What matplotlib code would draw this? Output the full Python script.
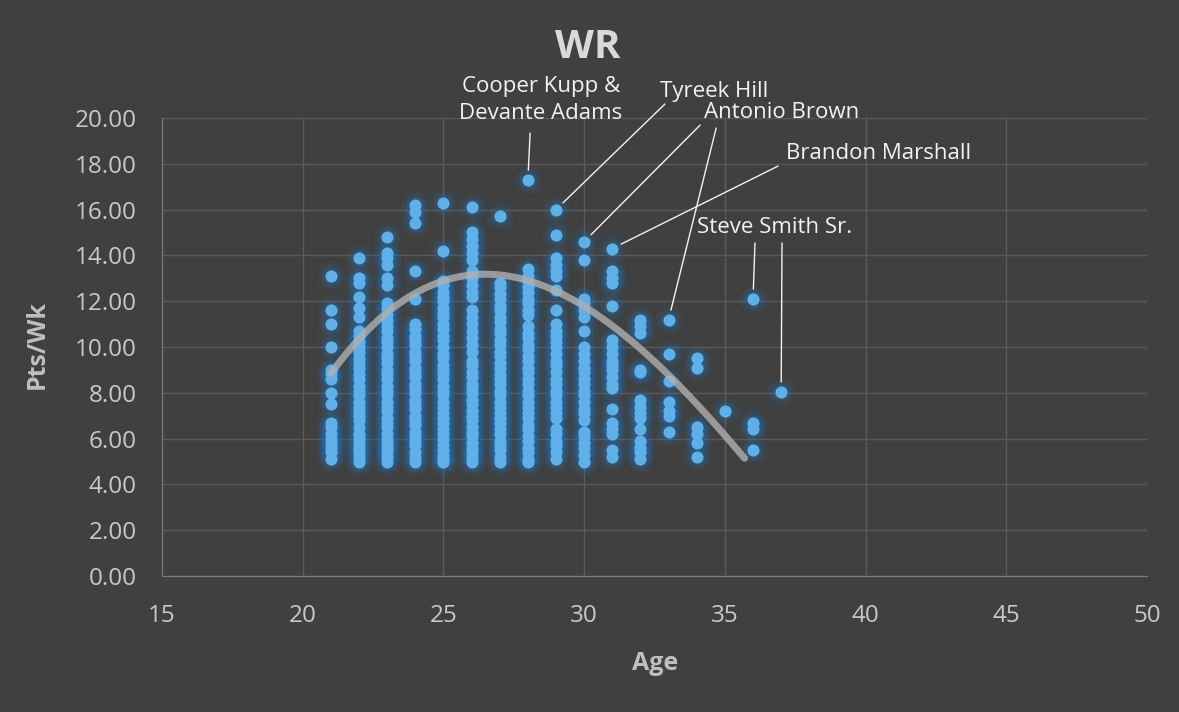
import matplotlib
matplotlib.use('Agg')
import matplotlib.pyplot as plt
import numpy as np

plt.rcParams['font.family'] = ['Open Sans', 'DejaVu Sans']

# points per week for each age column
ages = [21, 22, 23, 24, 25, 26, 27, 28, 29, 30, 31, 32, 33, 34, 35, 36, 37]
pts_21 = [13.1, 11.6, 11.0, 10.0, 9.0, 8.8, 8.6, 8.0, 7.5, 6.7, 6.5, 6.2, 6.0, 5.8, 5.6, 5.4, 5.1]
pts_22 = [13.9, 13.0, 12.8, 12.2, 11.7, 11.3, 10.7, 10.5, 10.2, 10.0, 9.8, 9.5, 9.3, 9.1, 8.8, 8.6,
	8.3, 8.1, 7.9, 7.6, 7.4, 7.2, 7.0, 6.8, 6.5, 6.2, 6.0, 5.8, 5.6, 5.4, 5.2, 5.0]
pts_23 = [14.8, 14.1, 13.9, 13.6, 13.0, 12.7, 11.9, 11.7, 11.4, 11.2, 10.9, 10.7, 10.4, 10.2, 10.0,
	9.7, 9.5, 9.3, 9.0, 8.8, 8.6, 8.3, 8.1, 7.9, 7.6, 7.4, 7.2, 6.9, 6.7, 6.5, 6.2, 6.0, 5.8, 5.6,
	5.4, 5.2, 5.0]
pts_24 = [16.2, 15.9, 15.4, 13.3, 12.1, 11.0, 10.8, 10.5, 10.3, 10.1, 9.8, 9.6, 9.4, 9.1, 8.9, 8.7,
	8.4, 8.2, 8.0, 7.7, 7.5, 7.3, 7.0, 6.8, 6.6, 6.3, 6.1, 5.9, 5.7, 5.4, 5.2, 5.0]
pts_25 = [16.3, 14.2, 12.9, 12.7, 12.4, 12.2, 12.0, 11.7, 11.5, 11.3, 11.0, 10.8, 10.5, 10.3, 10.0,
	9.7, 9.5, 9.2, 9.0, 8.8, 8.6, 8.3, 8.1, 7.9, 7.6, 7.4, 7.1, 6.9, 6.7, 6.4, 6.2, 6.0, 5.7, 5.5,
	5.3, 5.1, 5.0]
pts_26 = [16.1, 15.0, 14.7, 14.4, 14.1, 13.8, 13.3, 13.0, 12.7, 12.4, 12.2, 11.6, 11.3, 11.0, 10.7,
	10.4, 10.1, 9.8, 9.4, 9.2, 8.9, 8.7, 8.4, 8.2, 8.0, 7.7, 7.5, 7.2, 7.0, 6.8, 6.5, 6.3, 6.1, 5.8,
	5.6, 5.4, 5.2, 5.0]
pts_27 = [15.7, 12.8, 12.6, 12.3, 12.1, 11.8, 11.6, 11.3, 11.1, 10.8, 10.6, 10.3, 10.1, 9.8, 9.6,
	9.3, 9.1, 8.8, 8.6, 8.4, 8.1, 7.9, 7.6, 7.4, 7.1, 6.9, 6.7, 6.4, 6.2, 5.9, 5.7, 5.5, 5.2, 5.0]
pts_28 = [17.3, 13.4, 13.1, 12.9, 12.6, 12.4, 12.1, 11.9, 11.6, 11.4, 10.9, 10.6, 10.4, 10.1, 9.9,
	9.6, 9.4, 9.1, 8.9, 8.6, 8.4, 8.1, 7.9, 7.6, 7.4, 7.1, 6.9, 6.6, 6.4, 6.1, 5.9, 5.6, 5.4, 5.1,
	5.0]
pts_29 = [16.0, 14.9, 13.9, 13.6, 13.3, 13.1, 12.5, 11.6, 11.0, 10.7, 10.5, 10.2, 10.0, 9.7, 9.4,
	9.2, 8.9, 8.6, 8.4, 8.1, 7.9, 7.6, 7.4, 7.1, 6.9, 6.4, 6.2, 5.9, 5.7, 5.4, 5.1]
pts_30 = [14.6, 13.8, 12.1, 11.9, 11.6, 11.3, 10.7, 10.0, 9.7, 9.4, 9.1, 8.9, 8.6, 8.4, 8.1, 7.9,
	7.6, 7.3, 7.1, 6.8, 6.3, 6.1, 5.8, 5.6, 5.3, 5.0]
pts_31 = [14.3, 13.3, 13.0, 12.8, 11.8, 10.3, 10.0, 9.7, 9.4, 9.2, 9.0, 8.7, 8.4, 8.2, 7.3, 6.7,
	6.4, 6.2, 5.5, 5.2]
pts_32 = [11.2, 10.9, 10.6, 9.0, 8.9, 7.7, 7.4, 7.1, 6.9, 6.4, 5.9, 5.6, 5.4, 5.1]
pts_33 = [11.2, 9.7, 8.5, 7.6, 7.2, 7.0, 6.3]
pts_34 = [9.5, 9.1, 6.5, 6.2, 5.8, 5.2]
pts_35 = [7.2]
pts_36 = [12.1, 6.7, 6.4, 5.5]
pts_37 = [8.05]
columns = [pts_21, pts_22, pts_23, pts_24, pts_25, pts_26, pts_27, pts_28, pts_29,
	pts_30, pts_31, pts_32, pts_33, pts_34, pts_35, pts_36, pts_37]

# readings of the polynomial trendline
trend_age = [21, 23, 25, 26.5, 28.3, 30.1, 31.3, 33.05, 35.6]
trend_val = [9.0, 11.2, 12.8, 13.36, 13.05, 11.6, 10.6, 8.56, 5.37]
trend_end = 35.7

x = np.concatenate([[a]*len(c) for a, c in zip(ages, columns)])
y = np.concatenate(columns)

bg = '#404040'
fig = plt.figure(figsize=(11.79, 7.12), dpi=100, facecolor=bg)
ax = fig.add_axes([0.1374, 0.191, 0.8355, 0.6433], facecolor=bg)

ax.set_xlim(15, 50)
ax.set_ylim(0, 20)
ax.set_xticks(np.arange(15, 51, 5))
ax.set_yticks(np.arange(0, 21, 2))
ax.set_yticklabels(['%.2f' % v for v in np.arange(0, 21, 2)])
ax.grid(True, color='#5a5a5a', linewidth=1)
ax.set_axisbelow(True)
for side in ['top', 'right']:
	ax.spines[side].set_visible(False)
for side in ['left', 'bottom']:
	ax.spines[side].set_color('#7a7a7a')
ax.tick_params(length=0, colors='#c8c8c8', labelsize=17.5)
ax.tick_params(axis='y', pad=18)
ax.tick_params(axis='x', pad=20)

# glow under the points
for s, a in [(450, 0.06), (280, 0.10), (170, 0.17)]:
	ax.scatter(x, y, s=s, color='#1f78c8', alpha=a, linewidths=0, zorder=2)
ax.scatter(x, y, s=76, color='#5fb0e8', linewidths=0, zorder=3)

coef = np.polyfit(trend_age, trend_val, 3)
tx = np.linspace(trend_age[0], trend_end, 200)
ax.plot(tx, np.polyval(coef, tx), color='#b0b0b0', linewidth=5, alpha=0.8,
	solid_capstyle='round', zorder=4)

# labels and leader lines
txt_kw = dict(color='#f2f2f2', fontsize=16)
ax.text(28.47, 20.79, 'Cooper Kupp &\nDevante Adams', ha='center', va='center',
	linespacing=1.35, **txt_kw)
ax.text(32.70, 21.14, 'Tyreek Hill', ha='left', va='center', **txt_kw)
ax.text(34.26, 20.22, 'Antonio Brown', ha='left', va='center', **txt_kw)
ax.text(37.18, 18.43, 'Brandon Marshall', ha='left', va='center', **txt_kw)
ax.text(34.01, 15.20, 'Steve Smith Sr.', ha='left', va='center', **txt_kw)

leaders = [
	((28.08, 19.34), 28, 17.3),
	((32.87, 20.61), 29, 16.0),
	((34.12, 19.69), 30, 14.6),
	((34.69, 19.56), 33, 11.2),
	((36.89, 17.90), 31, 14.3),
	((36.07, 14.54), 36, 12.1),
	((37.03, 14.54), 37, 8.05),
]
for start, age, val in leaders:
	ax.annotate('', xy=(age, val), xytext=start, annotation_clip=False,
		arrowprops=dict(arrowstyle='-', color='#f2f2f2', lw=1, shrinkA=0, shrinkB=7))

fig.text(588/1179, 1-48/712, 'WR', ha='center', va='center', fontsize=29,
	fontweight='bold', color='#d9d9d9')
fig.text(655/1179, 1-663/712, 'Age', ha='center', va='center', fontsize=18,
	fontweight='bold', color='#bfbfbf')
fig.text(37/1179, 1-345/712, 'Pts/Wk', ha='center', va='center', rotation=90,
	fontsize=18, fontweight='bold', color='#bfbfbf')

fig.savefig('out.png', dpi=100, facecolor=bg)
